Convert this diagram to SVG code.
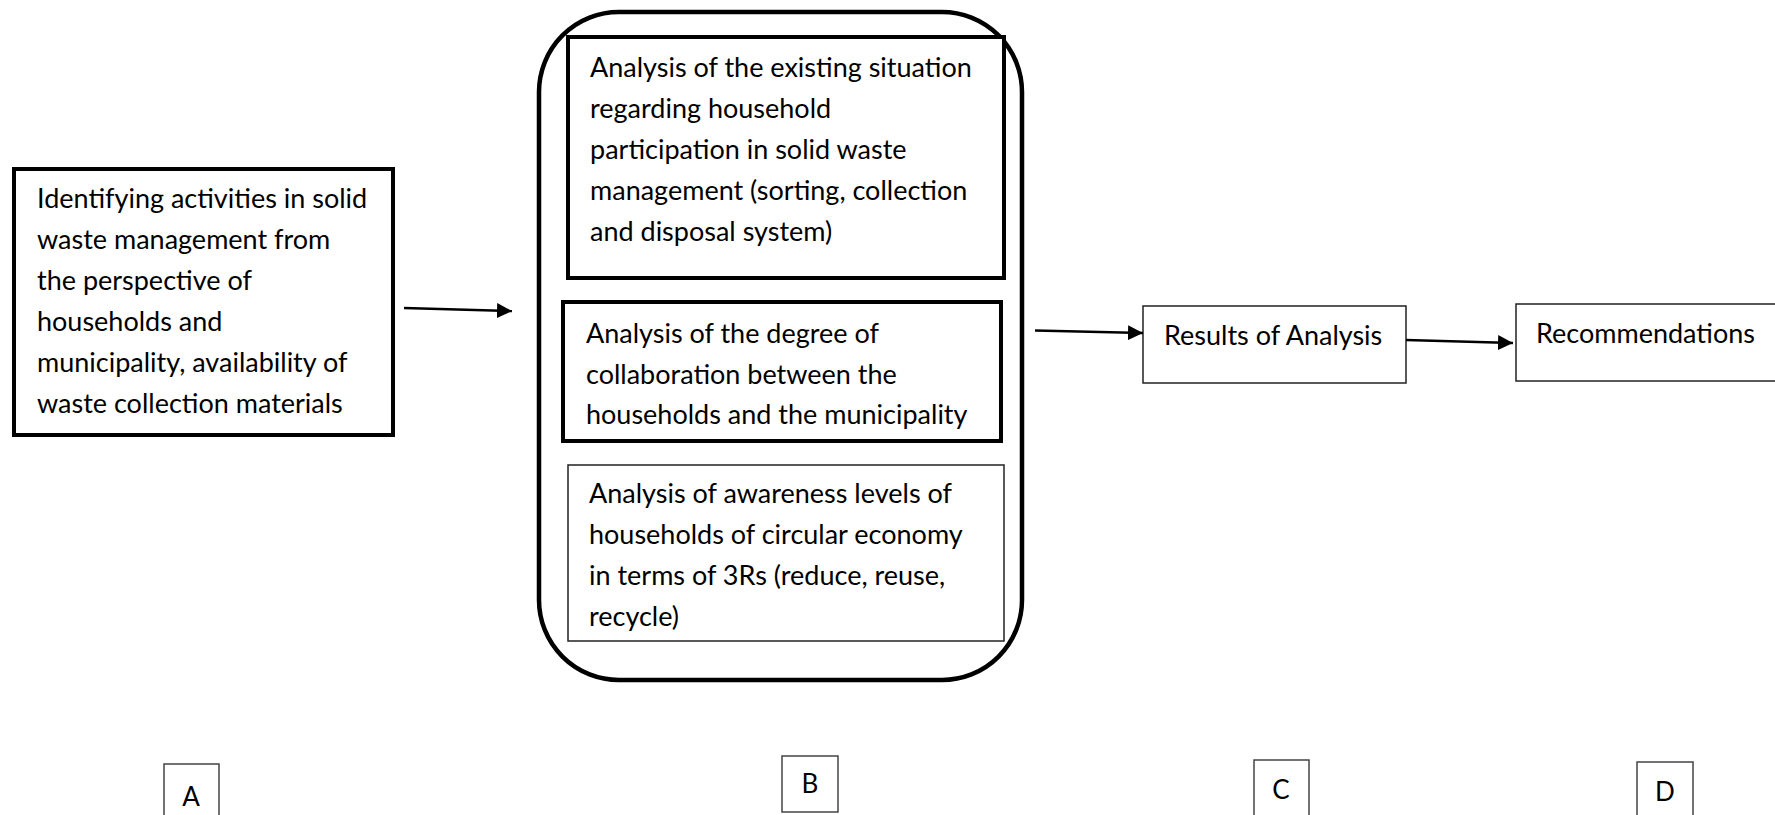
<svg xmlns="http://www.w3.org/2000/svg" width="1775" height="815" viewBox="0 0 1775 815">
<defs>
<style>
.t{font-family:Lato,"Open Sans",sans-serif;font-size:27px;fill:#000}
.l{font-family:Lato,"Open Sans",sans-serif;font-size:26px;fill:#000}
.thick{fill:#fff;stroke:#000;stroke-width:4}
.thin{fill:#fff;stroke:#222;stroke-width:1.5}
.lb{fill:#fff;stroke:#444;stroke-width:1.5}
.c{fill:none;stroke:#000;stroke-width:2.5}
</style>
<marker id="ah" viewBox="0 0 10 10" refX="10" refY="5" markerWidth="6" markerHeight="6" orient="auto" markerUnits="strokeWidth">
<path d="M0,0 L10,5 L0,10 z" fill="#000"/>
</marker>
</defs>
<rect width="1775" height="815" fill="#fff"/>
<g id="nodeA">
<rect class="thick" x="14" y="169" width="379" height="266"/>
<text class="t"><tspan x="37" y="208">Identifying activities in solid</tspan><tspan x="37" y="249">waste management from</tspan><tspan x="37" y="290">the perspective of</tspan><tspan x="37" y="331">households and</tspan><tspan x="37" y="372">municipality, availability of</tspan><tspan x="37" y="413">waste collection materials</tspan></text>
</g>
<g id="groupB">
<rect x="539" y="12" width="483" height="668" rx="80" ry="80" fill="none" stroke="#000" stroke-width="4.5"/>
</g>
<g id="nodeB1">
<rect class="thick" x="568" y="37" width="436" height="241"/>
<text class="t"><tspan x="590" y="77">Analysis of the existing situation</tspan><tspan x="590" y="118">regarding household</tspan><tspan x="590" y="159">participation in solid waste</tspan><tspan x="590" y="200">management (sorting, collection</tspan><tspan x="590" y="241">and disposal system)</tspan></text>
</g>
<g id="nodeB2">
<rect class="thick" x="563" y="302" width="438" height="139"/>
<text class="t"><tspan x="586" y="343">Analysis of the degree of</tspan><tspan x="586" y="384">collaboration between the</tspan><tspan x="586" y="424">households and the municipality</tspan></text>
</g>
<g id="nodeB3">
<rect class="thin" x="568" y="465" width="436" height="176"/>
<text class="t"><tspan x="589" y="503">Analysis of awareness levels of</tspan><tspan x="589" y="544">households of circular economy</tspan><tspan x="589" y="585">in terms of 3Rs (reduce, reuse,</tspan><tspan x="589" y="626">recycle)</tspan></text>
</g>
<g id="nodeC">
<rect class="thin" x="1143" y="306" width="263" height="77"/>
<text class="t" x="1164" y="345">Results of Analysis</text>
</g>
<g id="nodeD">
<rect class="thin" x="1516" y="304" width="270" height="77"/>
<text class="t" x="1536" y="343">Recommendations</text>
</g>
<g id="labels">
<rect class="lb" x="164" y="764" width="55" height="60"/>
<text class="l" x="191" y="806" text-anchor="middle">A</text>
<rect class="lb" x="782" y="756" width="56" height="56"/>
<text class="l" x="810" y="793" text-anchor="middle">B</text>
<rect class="lb" x="1254" y="760" width="55" height="60"/>
<text class="l" x="1281" y="799" text-anchor="middle">C</text>
<rect class="lb" x="1637" y="762" width="56" height="60"/>
<text class="l" x="1665" y="801" text-anchor="middle">D</text>
</g>
<g id="connectors">
<path class="c" d="M404,308 L512,311" marker-end="url(#ah)"/>
<path class="c" d="M1035,330.5 L1143,333" marker-end="url(#ah)"/>
<path class="c" d="M1406,340 L1513,343" marker-end="url(#ah)"/>
</g>
</svg>
